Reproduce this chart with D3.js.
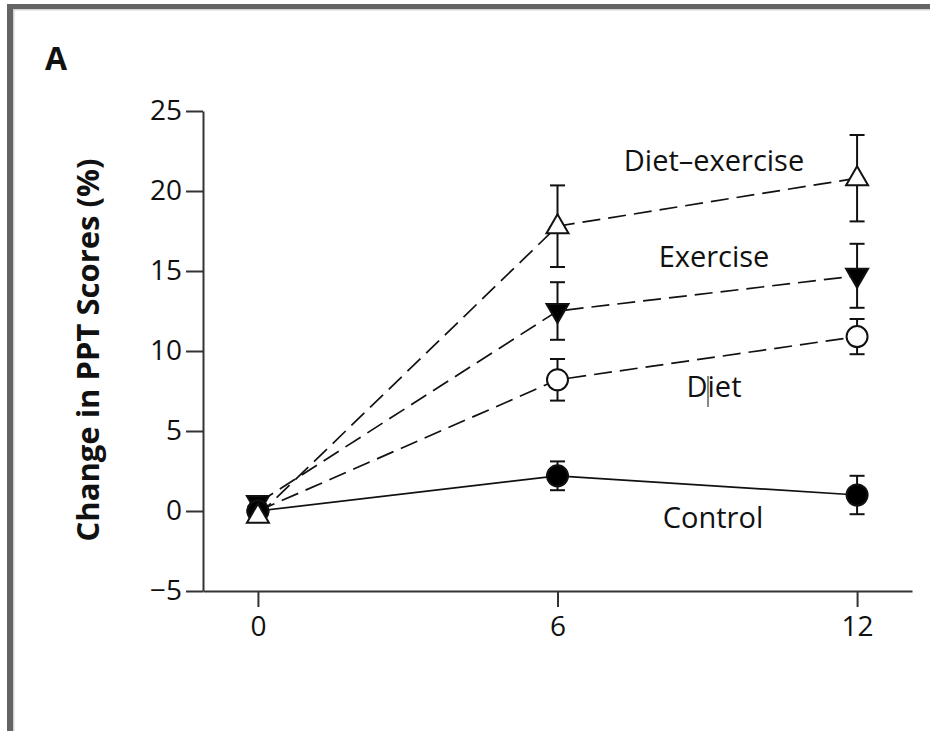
<!DOCTYPE html>
<html lang="en">
<head>
    <meta charset="UTF-8">
    <title>Change in PPT Scores</title>
    <script src="https://d3js.org/d3.v7.min.js"></script>
    <style>
        body { margin: 0; background: #fff; }
        text { font-family: "Open Sans", "Noto Sans", sans-serif; fill: #111; }
    </style>
</head>
<body>
    <svg width="930" height="731" id="chart"></svg>

    <script>
        // months since baseline
        const months = [0, 6, 12];

        // mean change in PPT score (%) per group
        const control = [0, 2.2, 1.0];
        const diet = [0, 8.2, 10.9];
        const exercise = [0.5, 12.5, 14.7];
        const dietExercise = [-0.3, 17.8, 20.8];

        // error bar half-widths
        const controlErr = [0, 0.9, 1.2];
        const dietErr = [0, 1.3, 1.1];
        const exerciseErr = [0, 1.8, 2.0];
        const dietExerciseErr = [0, 2.55, 2.7];

        const yTicks = [-5, 0, 5, 10, 15, 20, 25];
        const xTicks = [0, 6, 12];

        const groups = [
            { name: "Control", values: control, err: controlErr, marker: "circle", fill: "#000", dashed: false },
            { name: "Diet", values: diet, err: dietErr, marker: "circle", fill: "#fff", dashed: true },
            { name: "Exercise", values: exercise, err: exerciseErr, marker: "down", fill: "#000", dashed: true },
            { name: "Diet\u2013exercise", values: dietExercise, err: dietExerciseErr, marker: "up", fill: "#fff", dashed: true }
        ];

        const svg = d3.select("#chart");

        // grey frame on top and left
        svg.append("rect").attr("x", 7).attr("y", 4).attr("width", 923).attr("height", 5).attr("fill", "#646464");
        svg.append("rect").attr("x", 7).attr("y", 4).attr("width", 6).attr("height", 727).attr("fill", "#646464");
        svg.append("rect").attr("x", 13).attr("y", 9).attr("width", 917).attr("height", 1.5).attr("fill", "#d4d4d4");
        svg.append("rect").attr("x", 13).attr("y", 9).attr("width", 1.5).attr("height", 722).attr("fill", "#d4d4d4");

        const x = d3.scaleLinear().domain([-1.1, 13.1]).range([203, 912]);
        const y = d3.scaleLinear().domain([-5, 25]).range([591, 111]);

        // axes
        const yAxis = svg.append("g")
            .attr("transform", "translate(203,0)")
            .call(d3.axisLeft(y).tickValues(yTicks).tickSize(17).tickSizeOuter(0).tickPadding(4)
                .tickFormat(d => d < 0 ? "\u2212" + Math.abs(d) : d));
        const xAxis = svg.append("g")
            .attr("transform", "translate(0,591)")
            .call(d3.axisBottom(x).tickValues(xTicks).tickSize(16).tickSizeOuter(0).tickPadding(9));

        [yAxis, xAxis].forEach(g => {
            g.select(".domain").attr("stroke", "#333").attr("stroke-width", 2);
            g.selectAll(".tick line").attr("stroke", "#333").attr("stroke-width", 2);
            g.selectAll(".tick text").attr("font-size", 28)
                .attr("font-family", "'Open Sans', sans-serif").attr("fill", "#111");
        });

        // y axis title
        svg.append("text")
            .attr("transform", "translate(99,350) rotate(-90)")
            .attr("text-anchor", "middle")
            .attr("font-size", 31)
            .attr("font-weight", "bold")
            .text("Change in PPT Scores (%)");

        // panel letter
        svg.append("text")
            .attr("x", 45).attr("y", 70)
            .attr("font-size", 32)
            .attr("font-weight", "bold")
            .text("A");

        const line = d3.line()
            .x((d, i) => x(months[i]))
            .y(d => y(d));

        // lines
        groups.forEach(g => {
            svg.append("path")
                .attr("d", line(g.values))
                .attr("fill", "none")
                .attr("stroke", "#111")
                .attr("stroke-width", 1.7)
                .attr("stroke-dasharray", g.dashed ? "18,8" : null);
        });

        // error bars
        groups.forEach(g => {
            g.values.forEach((v, i) => {
                if (!g.err[i]) return;
                const cx = x(months[i]);
                const top = y(v + g.err[i]);
                const bot = y(v - g.err[i]);
                svg.append("line").attr("x1", cx).attr("x2", cx).attr("y1", top).attr("y2", bot)
                    .attr("stroke", "#111").attr("stroke-width", 2);
                [top, bot].forEach(yy => {
                    svg.append("line").attr("x1", cx - 7.5).attr("x2", cx + 7.5).attr("y1", yy).attr("y2", yy)
                        .attr("stroke", "#111").attr("stroke-width", 2);
                });
            });
        });

        // markers
        function markerPath(type) {
            if (type === "up") return "M0,-12L11,7L-11,7Z";
            if (type === "down") return "M0,12L11,-7L-11,-7Z";
            return null;
        }

        // draw order so the 0-month stack looks like the original
        [groups[2], groups[1], groups[0], groups[3]].forEach(g => {
            g.values.forEach((v, i) => {
                const cx = x(months[i]);
                const cy = y(v);
                if (g.marker === "circle") {
                    svg.append("circle").attr("cx", cx).attr("cy", cy).attr("r", 10.5)
                        .attr("fill", g.fill).attr("stroke", "#111").attr("stroke-width", 2);
                } else {
                    svg.append("path").attr("d", markerPath(g.marker))
                        .attr("transform", `translate(${cx},${cy})`)
                        .attr("fill", g.fill).attr("stroke", "#111").attr("stroke-width", 2)
                        .attr("stroke-linejoin", "miter");
                }
            });
        });

        // series labels
        const labelPos = [
            { name: "Diet\u2013exercise", x: 714, y: 171 },
            { name: "Exercise", x: 714, y: 267 },
            { name: "Diet", x: 714, y: 397 },
            { name: "Control", x: 713, y: 528 }
        ];
        labelPos.forEach(l => {
            svg.append("text")
                .attr("x", l.x).attr("y", l.y)
                .attr("text-anchor", "middle")
                .attr("font-size", 29)
                .text(l.name);
        });

        // stray text cursor seen in the original
        svg.append("line").attr("x1", 708).attr("x2", 708).attr("y1", 376).attr("y2", 407)
            .attr("stroke", "#111").attr("stroke-width", 1);
    </script>
</body>
</html>
